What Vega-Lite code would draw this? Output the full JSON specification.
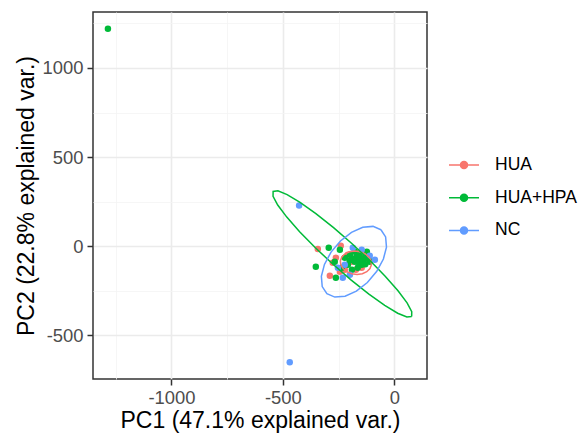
{
  "$schema": "https://vega.github.io/schema/vega-lite/v6.json",
  "autosize": "none",
  "width": 334,
  "height": 367,
  "padding": {"left": 93, "top": 12, "right": 158, "bottom": 61},
  "background": "white",
  "config": {
    "font": "Liberation Sans",
    "view": {"stroke": "#333333", "strokeWidth": 1.5},
    "axis": {"domain": false}
  },
  "datasets": {
    "pts": [
      {"group": "HUA", "pc1": -343, "pc2": -15},
      {"group": "HUA", "pc1": -276, "pc2": -92},
      {"group": "HUA", "pc1": -289, "pc2": -165},
      {"group": "HUA", "pc1": -240, "pc2": 3},
      {"group": "HUA", "pc1": -262, "pc2": -64},
      {"group": "HUA", "pc1": -222, "pc2": -131},
      {"group": "HUA", "pc1": -190, "pc2": -86},
      {"group": "HUA", "pc1": -155, "pc2": -64},
      {"group": "HUA", "pc1": -128, "pc2": -86},
      {"group": "HUA", "pc1": -172, "pc2": -131},
      {"group": "HUA", "pc1": -208, "pc2": -47},
      {"group": "HUA", "pc1": -244, "pc2": -142},
      {"group": "HUA", "pc1": -146, "pc2": -120},
      {"group": "HUA+HPA", "pc1": -1285, "pc2": 1220},
      {"group": "HUA+HPA", "pc1": -294, "pc2": -8},
      {"group": "HUA+HPA", "pc1": -352, "pc2": -114},
      {"group": "HUA+HPA", "pc1": -262, "pc2": -176},
      {"group": "HUA+HPA", "pc1": -244, "pc2": -19},
      {"group": "HUA+HPA", "pc1": -222, "pc2": -64},
      {"group": "HUA+HPA", "pc1": -199, "pc2": -47},
      {"group": "HUA+HPA", "pc1": -177, "pc2": -30},
      {"group": "HUA+HPA", "pc1": -155, "pc2": -47},
      {"group": "HUA+HPA", "pc1": -132, "pc2": -64},
      {"group": "HUA+HPA", "pc1": -110, "pc2": -86},
      {"group": "HUA+HPA", "pc1": -208, "pc2": -103},
      {"group": "HUA+HPA", "pc1": -177, "pc2": -86},
      {"group": "HUA+HPA", "pc1": -146, "pc2": -103},
      {"group": "HUA+HPA", "pc1": -164, "pc2": -120},
      {"group": "HUA+HPA", "pc1": -235, "pc2": -120},
      {"group": "HUA+HPA", "pc1": -267, "pc2": -86},
      {"group": "HUA+HPA", "pc1": -190, "pc2": -131},
      {"group": "HUA+HPA", "pc1": -123, "pc2": -30},
      {"group": "HUA+HPA", "pc1": -150, "pc2": -75},
      {"group": "HUA+HPA", "pc1": -170, "pc2": -60},
      {"group": "HUA+HPA", "pc1": -160, "pc2": -90},
      {"group": "HUA+HPA", "pc1": -140, "pc2": -85},
      {"group": "HUA+HPA", "pc1": -185, "pc2": -70},
      {"group": "HUA+HPA", "pc1": -200, "pc2": -80},
      {"group": "HUA+HPA", "pc1": -130, "pc2": -100},
      {"group": "HUA+HPA", "pc1": -115, "pc2": -70},
      {"group": "NC", "pc1": -427, "pc2": 229},
      {"group": "NC", "pc1": -469, "pc2": -650},
      {"group": "NC", "pc1": -186, "pc2": -8},
      {"group": "NC", "pc1": -110, "pc2": -53},
      {"group": "NC", "pc1": -222, "pc2": -103},
      {"group": "NC", "pc1": -231, "pc2": -176},
      {"group": "NC", "pc1": -87, "pc2": -75},
      {"group": "NC", "pc1": -146, "pc2": -19},
      {"group": "NC", "pc1": -253, "pc2": -120},
      {"group": "NC", "pc1": -199, "pc2": -159}
    ],
    "ell": [
      {"group": "HUA", "i": 0, "pc1": -102.5, "pc2": -103.2},
      {"group": "HUA", "i": 1, "pc1": -109.0, "pc2": -124.6},
      {"group": "HUA", "i": 2, "pc1": -123.1, "pc2": -142.1},
      {"group": "HUA", "i": 3, "pc1": -143.1, "pc2": -153.5},
      {"group": "HUA", "i": 4, "pc1": -166.6, "pc2": -157.4},
      {"group": "HUA", "i": 5, "pc1": -190.8, "pc2": -153.6},
      {"group": "HUA", "i": 6, "pc1": -212.7, "pc2": -142.3},
      {"group": "HUA", "i": 7, "pc1": -229.7, "pc2": -124.9},
      {"group": "HUA", "i": 8, "pc1": -239.8, "pc2": -103.6},
      {"group": "HUA", "i": 9, "pc1": -241.7, "pc2": -80.8},
      {"group": "HUA", "i": 10, "pc1": -235.2, "pc2": -59.4},
      {"group": "HUA", "i": 11, "pc1": -221.1, "pc2": -41.9},
      {"group": "HUA", "i": 12, "pc1": -201.1, "pc2": -30.5},
      {"group": "HUA", "i": 13, "pc1": -177.6, "pc2": -26.6},
      {"group": "HUA", "i": 14, "pc1": -153.4, "pc2": -30.4},
      {"group": "HUA", "i": 15, "pc1": -131.5, "pc2": -41.7},
      {"group": "HUA", "i": 16, "pc1": -114.5, "pc2": -59.1},
      {"group": "HUA", "i": 17, "pc1": -104.4, "pc2": -80.4},
      {"group": "HUA", "i": 18, "pc1": -102.5, "pc2": -103.2},
      {"group": "HUA+HPA", "i": 0, "pc1": 78.2, "pc2": -393.1},
      {"group": "HUA+HPA", "i": 1, "pc1": 56.7, "pc2": -396.3},
      {"group": "HUA+HPA", "i": 2, "pc1": 15.4, "pc2": -375.3},
      {"group": "HUA+HPA", "i": 3, "pc1": -42.7, "pc2": -331.6},
      {"group": "HUA+HPA", "i": 4, "pc1": -113.7, "pc2": -268.4},
      {"group": "HUA+HPA", "i": 5, "pc1": -193.0, "pc2": -189.7},
      {"group": "HUA+HPA", "i": 6, "pc1": -274.9, "pc2": -100.9},
      {"group": "HUA+HPA", "i": 7, "pc1": -354.0, "pc2": -8.1},
      {"group": "HUA+HPA", "i": 8, "pc1": -424.7, "pc2": 82.2},
      {"group": "HUA+HPA", "i": 9, "pc1": -482.3, "pc2": 164.0},
      {"group": "HUA+HPA", "i": 10, "pc1": -523.0, "pc2": 231.7},
      {"group": "HUA+HPA", "i": 11, "pc1": -543.9, "pc2": 280.9},
      {"group": "HUA+HPA", "i": 12, "pc1": -543.6, "pc2": 307.9},
      {"group": "HUA+HPA", "i": 13, "pc1": -522.1, "pc2": 311.1},
      {"group": "HUA+HPA", "i": 14, "pc1": -480.8, "pc2": 290.1},
      {"group": "HUA+HPA", "i": 15, "pc1": -422.7, "pc2": 246.4},
      {"group": "HUA+HPA", "i": 16, "pc1": -351.7, "pc2": 183.2},
      {"group": "HUA+HPA", "i": 17, "pc1": -272.4, "pc2": 104.5},
      {"group": "HUA+HPA", "i": 18, "pc1": -190.5, "pc2": 15.7},
      {"group": "HUA+HPA", "i": 19, "pc1": -111.4, "pc2": -77.1},
      {"group": "HUA+HPA", "i": 20, "pc1": -40.7, "pc2": -167.4},
      {"group": "HUA+HPA", "i": 21, "pc1": 16.9, "pc2": -249.2},
      {"group": "HUA+HPA", "i": 22, "pc1": 57.6, "pc2": -316.9},
      {"group": "HUA+HPA", "i": 23, "pc1": 78.5, "pc2": -366.1},
      {"group": "HUA+HPA", "i": 24, "pc1": 78.2, "pc2": -393.1},
      {"group": "NC", "i": 0, "pc1": -59.7, "pc2": 93.1},
      {"group": "NC", "i": 1, "pc1": -38.7, "pc2": 52.8},
      {"group": "NC", "i": 2, "pc1": -34.9, "pc2": -4.5},
      {"group": "NC", "i": 3, "pc1": -48.7, "pc2": -71.4},
      {"group": "NC", "i": 4, "pc1": -78.4, "pc2": -140.3},
      {"group": "NC", "i": 5, "pc1": -120.6, "pc2": -202.7},
      {"group": "NC", "i": 6, "pc1": -170.1, "pc2": -251.0},
      {"group": "NC", "i": 7, "pc1": -220.7, "pc2": -279.5},
      {"group": "NC", "i": 8, "pc1": -266.7, "pc2": -284.6},
      {"group": "NC", "i": 9, "pc1": -302.3, "pc2": -265.9},
      {"group": "NC", "i": 10, "pc1": -323.3, "pc2": -225.6},
      {"group": "NC", "i": 11, "pc1": -327.1, "pc2": -168.3},
      {"group": "NC", "i": 12, "pc1": -313.3, "pc2": -101.4},
      {"group": "NC", "i": 13, "pc1": -283.6, "pc2": -32.5},
      {"group": "NC", "i": 14, "pc1": -241.4, "pc2": 29.9},
      {"group": "NC", "i": 15, "pc1": -191.9, "pc2": 78.2},
      {"group": "NC", "i": 16, "pc1": -141.3, "pc2": 106.7},
      {"group": "NC", "i": 17, "pc1": -95.3, "pc2": 111.8},
      {"group": "NC", "i": 18, "pc1": -59.7, "pc2": 93.1}
    ]
  },
  "encoding": {
    "x": {
      "field": "pc1", "type": "quantitative",
      "scale": {"domain": [-1352, 147], "nice": false, "zero": false},
      "axis": {
        "title": "PC1 (47.1% explained var.)",
        "values": [-1250, -1000, -750, -500, -250, 0],
        "labelExpr": "datum.value % 500 === 0 ? '' + datum.value : ''",
        "grid": true,
        "gridColor": {"condition": {"test": "datum.value % 500 === 0", "value": "#EBEBEB"}, "value": "#F4F4F4"},
        "gridWidth": {"condition": {"test": "datum.value % 500 === 0", "value": 1.6}, "value": 0.8},
        "tickOpacity": {"condition": {"test": "datum.value % 500 === 0", "value": 1}, "value": 0},
        "tickColor": "#333333", "tickWidth": 1.5, "tickSize": 6,
        "labelColor": "#4D4D4D", "labelFontSize": 18.4, "labelPadding": 3,
        "labelFlush": false, "labelOverlap": false,
        "titleFontSize": 23, "titleFontWeight": "normal", "titleColor": "#000000", "titlePadding": 3
      }
    },
    "y": {
      "field": "pc2", "type": "quantitative",
      "scale": {"domain": [-744, 1314], "nice": false, "zero": false},
      "axis": {
        "title": "PC2 (22.8% explained var.)",
        "values": [-750, -500, -250, 0, 250, 500, 750, 1000, 1250],
        "labelExpr": "datum.value % 500 === 0 ? '' + datum.value : ''",
        "grid": true,
        "gridColor": {"condition": {"test": "datum.value % 500 === 0", "value": "#EBEBEB"}, "value": "#F4F4F4"},
        "gridWidth": {"condition": {"test": "datum.value % 500 === 0", "value": 1.6}, "value": 0.8},
        "tickOpacity": {"condition": {"test": "datum.value % 500 === 0", "value": 1}, "value": 0},
        "tickColor": "#333333", "tickWidth": 1.5, "tickSize": 6,
        "labelColor": "#4D4D4D", "labelFontSize": 18.4, "labelPadding": 4,
        "labelFlush": false, "labelOverlap": false,
        "titleFontSize": 23, "titleFontWeight": "normal", "titleColor": "#000000", "titlePadding": 4
      }
    },
    "color": {
      "field": "group", "type": "nominal",
      "scale": {"domain": ["HUA", "HUA+HPA", "NC"], "range": ["#F8766D", "#00BA38", "#619CFF"]},
      "legend": {
        "title": null,
        "orient": "none",
        "legendX": 355,
        "legendY": 137,
        "padding": 0,
        "symbolType": "M-1,0L1,0M0.233,0A0.233,0.233,0,1,1,-0.233,0A0.233,0.233,0,1,1,0.233,0Z",
        "symbolSize": 900,
        "symbolStrokeWidth": 1.5,
        "labelFontSize": 17.5,
        "labelColor": "#000000",
        "labelOffset": 15,
        "rowPadding": 7.7,
        "encode": {
          "symbols": {
            "update": {
              "fill": {"scale": "color", "field": "value"},
              "stroke": {"scale": "color", "field": "value"},
              "opacity": {"value": 1},
              "fillOpacity": {"value": 1},
              "strokeOpacity": {"value": 1}
            }
          }
        }
      }
    }
  },
  "layer": [
    {
      "data": {"name": "pts"},
      "mark": {"type": "point", "filled": true, "size": 42, "opacity": 1, "clip": true}
    },
    {
      "data": {"name": "ell"},
      "mark": {"type": "line", "strokeWidth": 1.5, "clip": true},
      "encoding": {"order": {"field": "i", "type": "quantitative"}}
    }
  ]
}
